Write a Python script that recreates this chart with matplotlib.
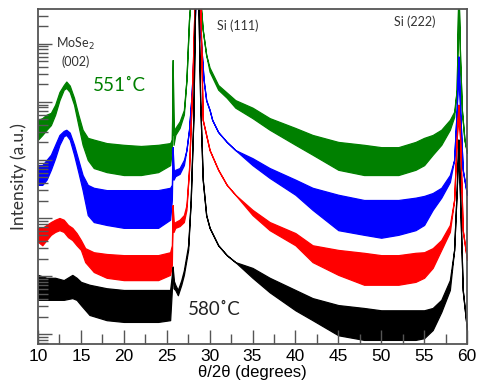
import numpy as np
import matplotlib.pyplot as plt
from matplotlib.ticker import LogLocator, NullFormatter, MultipleLocator

# log10(intensity): upper / lower edge of the noise band
x_green = [10, 10.5, 11, 11.5, 12, 12.5, 13, 13.3, 13.7, 14.2, 14.7, 15.2, 15.8, 16.5, 18, 20, 22, 24,
           25.4, 25.6, 25.7, 25.8, 26, 26.5, 27, 27.3, 27.6, 27.9, 28.5, 29.2, 29.6, 30, 31, 32, 33, 35,
           37, 40, 42, 45, 48, 50, 52, 54, 55, 56, 57, 58, 58.5, 58.8, 59.0, 59.2, 59.4, 59.7, 60]
green_hi = [4.69, 4.72, 4.78, 4.81, 4.95, 5.17, 5.29, 5.35, 5.28, 5.07, 4.78, 4.52, 4.38, 4.35, 4.29, 4.26, 4.24, 4.26,
            4.29, 4.35, 5.72, 4.43, 4.55, 4.66, 4.86, 5.38, 6.41, 7.0, 7.5, 6.24, 5.81, 5.59, 5.29, 5.16, 5.03, 4.90,
            4.72, 4.55, 4.43, 4.31, 4.26, 4.22, 4.22, 4.31, 4.38, 4.43, 4.52, 4.69, 4.83, 5.21, 7.0, 5.72, 4.86, 4.35, 4.12]
green_lo = [4.35, 4.43, 4.52, 4.60, 4.78, 5.03, 5.21, 5.24, 5.17, 4.95, 4.60, 4.26, 4.00, 3.86, 3.79, 3.74, 3.74, 3.79,
            3.91, 4.17, 5.72, 4.26, 4.43, 4.55, 4.78, 5.38, 6.41, 7.0, 7.5, 6.24, 5.81, 5.52, 5.21, 5.07, 4.90, 4.72,
            4.52, 4.26, 4.09, 3.83, 3.74, 3.74, 3.74, 3.83, 3.91, 4.09, 4.26, 4.52, 4.74, 5.21, 7.0, 5.72, 4.86, 4.35, 4.12]

x_blue = [10, 10.5, 11, 11.5, 12, 12.5, 13, 13.3, 13.7, 14.2, 14.7, 15.2, 15.8, 16.5, 18, 20, 22, 24,
          25.4, 25.6, 25.7, 25.8, 26, 26.5, 27, 27.3, 27.6, 27.9, 28.2, 28.5, 28.9, 29.3, 29.6, 30, 30.3, 31,
          32, 33, 35, 37, 40, 42, 45, 48, 50, 52, 54, 55, 56, 57, 58, 58.5, 58.8, 59.0, 59.2, 59.5, 60]
blue_hi = [3.91, 3.91, 4.00, 4.09, 4.26, 4.43, 4.50, 4.52, 4.47, 4.26, 4.00, 3.74, 3.57, 3.52, 3.48, 3.48, 3.48, 3.48,
           3.52, 3.57, 4.22, 3.74, 3.83, 3.86, 4.00, 4.17, 4.52, 5.12, 6.07, 7.5, 6.24, 5.38, 5.03, 4.86, 4.69, 4.48,
           4.31, 4.17, 4.03, 3.86, 3.66, 3.52, 3.40, 3.31, 3.31, 3.31, 3.35, 3.38, 3.43, 3.52, 3.74, 4.00, 4.86, 5.78,
           4.86, 3.83, 3.40]
blue_lo = [3.57, 3.57, 3.66, 3.83, 4.03, 4.26, 4.41, 4.43, 4.35, 4.09, 3.79, 3.48, 3.05, 2.93, 2.88, 2.83, 2.83, 2.83,
           2.97, 3.31, 4.22, 3.66, 3.72, 3.76, 3.91, 4.17, 4.52, 5.12, 6.07, 7.5, 6.24, 5.38, 5.03, 4.86, 4.69, 4.48,
           4.31, 4.17, 3.91, 3.69, 3.40, 3.14, 2.79, 2.71, 2.66, 2.71, 2.79, 2.88, 3.14, 3.35, 3.62, 4.00, 4.86, 5.78,
           4.86, 3.83, 3.40]

x_red = [10, 10.5, 11, 11.5, 12, 12.5, 13, 13.5, 14, 14.5, 15, 15.5, 16.5, 18, 20, 22, 24,
         25.4, 25.6, 25.7, 25.8, 26, 26.5, 27, 27.3, 27.6, 28.0, 28.4, 28.8, 29.2, 30, 31, 32, 33, 35,
         37, 40, 42, 45, 48, 50, 52, 54, 55, 56, 57, 58, 58.5, 58.8, 59.0, 59.2, 59.5, 60]
red_hi = [2.83, 2.83, 2.88, 2.93, 2.97, 3.00, 2.97, 2.88, 2.83, 2.74, 2.62, 2.48, 2.41, 2.38, 2.36, 2.36, 2.36,
          2.41, 2.53, 3.22, 2.88, 2.93, 2.97, 3.05, 3.22, 3.83, 5.38, 7.5, 7.5, 4.69, 4.17, 3.83, 3.57, 3.40, 3.14,
          2.93, 2.74, 2.53, 2.45, 2.40, 2.36, 2.36, 2.40, 2.41, 2.48, 2.62, 2.88, 3.31, 4.35, 4.95, 4.35, 2.79, 2.28]
red_lo = [2.59, 2.53, 2.62, 2.71, 2.76, 2.79, 2.76, 2.67, 2.62, 2.53, 2.45, 2.24, 2.07, 1.97, 1.93, 1.93, 1.93,
          2.02, 2.19, 3.22, 2.76, 2.83, 2.86, 2.93, 3.14, 3.83, 5.38, 7.5, 7.5, 4.69, 4.17, 3.83, 3.57, 3.40, 3.05,
          2.79, 2.53, 2.24, 2.02, 1.85, 1.85, 1.85, 1.90, 1.97, 2.14, 2.45, 2.76, 3.31, 4.35, 4.95, 4.35, 2.79, 2.28]

x_black = [10, 11, 12, 13, 14, 14.5, 15, 16, 18, 20, 22, 24,
           25.4, 25.6, 25.7, 25.8, 26, 26.3, 26.7, 27, 27.5, 27.8, 28.1, 28.4, 28.6, 28.9, 29.2, 29.6, 30, 31, 32, 33,
           35, 37, 40, 42, 45, 48, 50, 52, 54, 55, 56, 57, 58, 58.5, 58.8, 59.0, 59.2, 59.5, 60]
black_hi = [2.02, 1.97, 1.97, 1.93, 2.02, 1.97, 1.90, 1.85, 1.79, 1.76, 1.76, 1.76,
            1.76, 2.02, 2.16, 1.93, 1.85, 1.76, 1.93, 2.10, 2.53, 3.31, 4.69, 7.5, 7.5, 5.03, 3.66, 3.05, 2.83, 2.53,
            2.36, 2.24, 2.14, 1.97, 1.76, 1.62, 1.50, 1.45, 1.41, 1.41, 1.41, 1.41, 1.45, 1.59, 1.93, 2.45, 3.48,
            4.35, 3.31, 1.76, 1.07]
black_lo = [1.59, 1.59, 1.59, 1.59, 1.62, 1.59, 1.50, 1.33, 1.24, 1.21, 1.21, 1.21,
            1.24, 1.76, 2.16, 1.79, 1.76, 1.67, 1.85, 2.02, 2.45, 3.31, 4.69, 7.5, 7.5, 5.03, 3.66, 3.05, 2.83, 2.53,
            2.36, 2.24, 1.97, 1.72, 1.41, 1.24, 0.98, 0.90, 0.90, 0.90, 0.90, 0.93, 1.07, 1.38, 1.76, 2.45, 3.48,
            4.35, 3.31, 1.76, 1.07]

series = [
    ('green', x_green, green_lo, green_hi, '#008000'),
    ('blue', x_blue, blue_lo, blue_hi, '#0000ff'),
    ('red', x_red, red_lo, red_hi, '#ff0000'),
    ('black', x_black, black_lo, black_hi, '#000000'),
]

fig = plt.figure(figsize=(4.78, 3.9), dpi=100)
ax = fig.add_axes([0.0795, 0.118, 0.8975, 0.859])

for name, x, lo, hi, c in series:
    lo_i = np.power(10.0, lo)
    hi_i = np.power(10.0, hi)
    ax.fill_between(x, lo_i, hi_i, color=c, lw=0.9)

ax.set_yscale('log')
ax.set_xlim(10, 60)
ax.set_ylim(10 ** 0.83, 10 ** 6.6)
ax.yaxis.set_major_locator(LogLocator(base=10))
ax.yaxis.set_minor_locator(LogLocator(base=10, subs=np.arange(2, 10)))
ax.yaxis.set_minor_formatter(NullFormatter())
ax.set_yticklabels([])
ax.xaxis.set_major_locator(MultipleLocator(5))
ax.xaxis.set_minor_locator(MultipleLocator(2.5))

spine_col = '#555555'
for s in ax.spines.values():
    s.set_color(spine_col)
    s.set_linewidth(1.3)
ax.tick_params(which='both', direction='in', color=spine_col, width=1.0,
               top=False, right=False, labelleft=False)
ax.tick_params(which='major', length=10, labelsize=12.5)
ax.tick_params(which='minor', length=7)
for lab in ax.get_xticklabels():
    lab.set_family('Liberation Sans')

ax.set_xlabel('θ/2θ (degrees)', fontsize=12, family='Liberation Sans', labelpad=1)
ax.set_ylabel('Intensity (a.u.)', fontsize=12.5, family='Lato', labelpad=8, color='#333333')

ax.text(14.4, 10 ** 6.0, 'MoSe$_2$', fontsize=9, family='Lato', ha='center', va='center', color='#333333')
ax.text(14.4, 10 ** 5.69, '(002)', fontsize=9, family='Lato', ha='center', va='center', color='#333333')
ax.text(19.5, 10 ** 5.29, '551˚C', fontsize=13.5, family='Lato', ha='center', va='center', color='#008000')
ax.text(30.5, 10 ** 1.42, '580˚C', fontsize=13.5, family='Lato', ha='center', va='center', color='#222222')
ax.text(33.3, 10 ** 6.31, 'Si (111)', fontsize=9, family='Lato', ha='center', va='center', color='#333333')
ax.text(53.9, 10 ** 6.38, 'Si (222)', fontsize=9, family='Lato', ha='center', va='center', color='#333333')

fig.savefig('out.png', dpi=100)
